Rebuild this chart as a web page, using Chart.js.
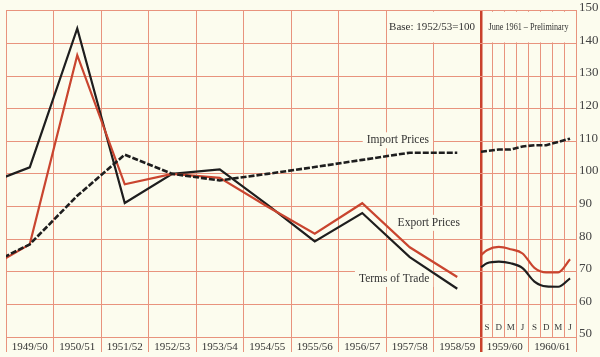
<!DOCTYPE html>
<html><head><meta charset="utf-8">
<script src="https://cdn.jsdelivr.net/npm/chart.js@4"></script>
<style>html,body{margin:0;padding:0;background:#fcfcee;}#wrap{width:600px;height:357px;position:relative;}</style>
</head><body><div id="wrap"><canvas id="c"></canvas></div>
<script>
// ---- data ----
const categories = ['1949/50','1950/51','1951/52','1952/53','1953/54','1954/55','1955/56','1956/57','1957/58','1958/59'];
const periodLabels = ['1959/60','1960/61'];
const quarterLabels = ['S','D','M','J','S','D','M','J'];
const yMin = 50, yMax = 150, yStep = 10;

// value of the year before the first category (line enters from the left edge)
const importLeadIn = 71.2, exportLeadIn = 70.0, termsLeadIn = 96.4;
const importAnnual = [78.4, 93.3, 105.9, 100, 98.0, 100.0, 102.1, 104.3, 106.5, 106.5];
const exportAnnual = [78.4, 136.4, 96.8, 100, 98.8, 90.0, 81.7, 91.0, 77.5, 68.4];
const termsAnnual  = [102.0, 144.6, 91.1, 100, 101.4, 90.6, 79.3, 88.0, 74.5, 64.8];

// recent period: opening value, then quarterly values
const importStart = 106.8, exportStart = 75.1, termsStart = 71.4;
const importQuarterly = [107.0, 107.5, 107.5, 108.4, 108.8, 108.8, 109.8, 110.8];
const exportQuarterly = [76.6, 77.6, 76.9, 75.6, 71.2, 69.8, 69.8, 73.8];
const termsQuarterly  = [72.6, 73.1, 72.6, 71.1, 67.0, 65.5, 65.4, 68.0];

// ---- helpers ----
const nA = categories.length, nP = periodLabels.length, qPer = quarterLabels.length / nP;
const BG = '#fcfcee', GRID = '#e8937d', THICK = '#c9412b', RED = '#c9452f', BLACK = '#1e1e1e', TXT = '#333';
const SERIF = "'Liberation Serif', 'DejaVu Serif', serif";

function annualSeries(lead, vals){
  return [{x:-0.5, y:lead}].concat(vals.map((v,i)=>({x:i+0.5, y:v})));
}
function recentSeries(start, vals){
  return [{x:nA, y:start}].concat(vals.map((v,j)=>({x:nA+(j+0.5)/qPer, y:v})));
}

const xTickValues = [];
for (let i=0;i<=nA+nP;i++) xTickValues.push(i);
for (let i=0;i<nA;i++) xTickValues.push(i+0.5);
for (let k=1;k<nP*qPer;k++){ const v = nA + k/qPer; if(!xTickValues.includes(v)) xTickValues.push(v); }
xTickValues.sort((a,b)=>a-b);

function xLabel(v){
  if (v < nA && Math.abs(v - Math.floor(v) - 0.5) < 1e-9) return categories[Math.floor(v)];
  if (v > nA && Math.abs(v - Math.floor(v) - 0.5) < 1e-9) return periodLabels[Math.floor(v)-nA];
  return '';
}
function isBoundary(v){ return Number.isInteger(v) || (v > nA && Number.isInteger(v*qPer)); }

const paper = {
  id:'paper',
  beforeDraw(chart){
    const c = chart.ctx; c.save(); c.fillStyle = BG; c.fillRect(0,0,chart.width,chart.height); c.restore();
  },
  beforeDatasetsDraw(chart){
    const c = chart.ctx, xs = chart.scales.x, ys = chart.scales.y;
    c.save();
    const t = ys.getPixelForValue(yMax), b = ys.getPixelForValue(yMax - yStep);
    c.fillStyle = BG;
    let x1 = xs.getPixelForValue(nA-2)+1, x2 = xs.getPixelForValue(nA)-2;
    c.fillRect(x1, t+1, x2-x1, b-t-2);
    x1 = xs.getPixelForValue(nA)+2; x2 = xs.getPixelForValue(nA+nP)-1;
    c.fillRect(x1, t+1, x2-x1, b-t-2);
    c.textAlign='center'; c.textBaseline='middle'; c.fillStyle=TXT;
    c.font = '11px '+SERIF;
    c.fillText('Base: 1952/53=100', xs.getPixelForValue(nA-1.03), (t+b)/2);
    c.font = '9.5px '+SERIF;
    c.fillText('June 1961 \u2013 Preliminary', xs.getPixelForValue(nA+nP/2), (t+b)/2, 80);
    const boxed = (txt, xv, yv) => {
      c.font = '11.5px '+SERIF;
      const w = c.measureText(txt).width, px = xs.getPixelForValue(xv), py = ys.getPixelForValue(yv);
      c.fillStyle = BG; c.fillRect(px-w/2-4, py-8, w+8, 16);
      c.fillStyle = TXT; c.fillText(txt, px, py);
    };
    boxed('Import Prices', 8.25, 110.3);
    boxed('Export Prices', 8.9, 85.0);
    boxed('Terms of Trade', 8.17, 67.8);
    c.font = '9px '+SERIF; c.fillStyle = TXT;
    const ly = ys.getPixelForValue(yMin) - 9;
    quarterLabels.forEach((q,j)=>{ c.fillText(q, xs.getPixelForValue(nA+(j+0.5)/qPer), ly); });
    c.restore();
  }
};

new Chart(document.getElementById('c'), {
  type:'line',
  data:{ datasets:[
    {data:annualSeries(importLeadIn, importAnnual), borderColor:BLACK, borderWidth:2.6, borderDash:[6,2], tension:0},
    {data:annualSeries(exportLeadIn, exportAnnual), borderColor:RED, borderWidth:2.2, tension:0},
    {data:annualSeries(termsLeadIn, termsAnnual), borderColor:BLACK, borderWidth:2.2, tension:0},
    {data:recentSeries(importStart, importQuarterly), borderColor:BLACK, borderWidth:2.6, borderDash:[6,2], tension:0},
    {data:recentSeries(exportStart, exportQuarterly), borderColor:RED, borderWidth:2.2, cubicInterpolationMode:'monotone'},
    {data:recentSeries(termsStart, termsQuarterly), borderColor:BLACK, borderWidth:2.2, cubicInterpolationMode:'monotone'}
  ]},
  options:{
    responsive:true, maintainAspectRatio:false, animation:false,
    layout:{padding:{left:6, top:7, right:0, bottom:0}},
    elements:{point:{radius:0}, line:{borderCapStyle:'butt', borderJoinStyle:'miter'}},
    plugins:{legend:{display:false}, tooltip:{enabled:false}},
    scales:{
      x:{ type:'linear', min:0, max:nA+nP,
        afterBuildTicks(s){ s.ticks = xTickValues.map(v=>({value:v})); },
        afterFit(s){ s.height = 20; },
        ticks:{ autoSkip:false, maxRotation:0, padding:-11, color:TXT, font:{family:SERIF, size:11},
          callback:(v)=>xLabel(v) },
        grid:{ drawTicks:true, tickLength:15,
          color:(ctx)=>{ const v=ctx.tick.value; if(v===nA) return THICK; return isBoundary(v)?GRID:'rgba(0,0,0,0)'; },
          lineWidth:(ctx)=> ctx.tick.value===nA ? 2.5 : 1,
          tickColor:(ctx)=>{ const v=ctx.tick.value; if(v===nA) return THICK; return Number.isInteger(v)?GRID:'rgba(0,0,0,0)'; },
          tickWidth:(ctx)=> ctx.tick.value===nA ? 2.5 : 1 },
        border:{display:false}
      },
      y:{ position:'right', min:yMin, max:yMax,
        afterFit(s){ s.width = 24; },
        ticks:{ stepSize:yStep, labelOffset:-3, padding:3, color:'#444', font:{family:SERIF, size:13} },
        grid:{ color:GRID, lineWidth:1, drawTicks:false },
        border:{color:GRID}
      }
    }
  },
  plugins:[paper]
});
</script></body></html>
